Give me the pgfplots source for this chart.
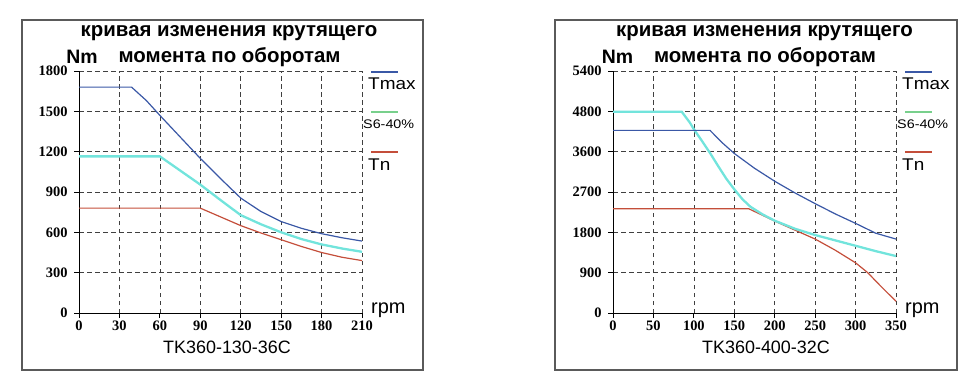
\documentclass[border=0pt]{standalone}
\usepackage{pgfplots}
\pgfplotsset{compat=1.18}
\usepackage{fontspec}
\setmainfont{Liberation Sans}
\newfontfamily\tickfont{Liberation Serif}
\definecolor{cmax}{HTML}{3A58A6}
\definecolor{cs6}{HTML}{72E4DC}
\definecolor{cs6leg}{HTML}{78D08C}
\definecolor{ctn}{HTML}{C44E3A}
\definecolor{cframe}{HTML}{5A5A5A}
\pgfplotsset{
  torq/.style={
    scale only axis, width=283bp, height=242bp, anchor=south west,
    axis x line*=bottom, axis y line*=left,
    axis line style={black, line width=0.9bp},
    grid=major,
    grid style={black!75, line width=0.6bp, dash pattern=on 4.5bp off 3.5bp},
    tick align=outside, major tick length=5bp,
    tick style={black, line width=0.8bp},
    ticklabel style={font=\tickfont\bfseries\fontsize{14.5}{14.5}\selectfont},
    yticklabel style={xshift=-3bp},
    xticklabel style={yshift=1bp},
    /pgf/number format/assume math mode=true,
    /pgf/number format/1000 sep={},
    clip=false,
  }
}
\begin{document}
\begin{tikzpicture}[x=1bp,y=1bp]
\path[use as bounding box] (0,0) rectangle (970,389);
% frames
\draw[cframe, line width=1.8bp] (22,19) rectangle (423,369);
\draw[cframe, line width=1.8bp] (555,19) rectangle (957,369);

% ---------- left panel ----------
\begin{axis}[torq, at={(79bp,76bp)},
  xmin=0, xmax=210, ymin=0, ymax=1800,
  xtick={0,30,...,210}, ytick={0,300,...,1800}]
\addplot[ctn, line width=1.2bp] coordinates {(0,780)(90,780)(105,715)(120,650)(135,595)(150,545)(165,495)(180,450)(195,415)(210,390)};
\addplot[cs6, line width=2.3bp] coordinates {(0,1165)(60,1165)(75,1060)(90,955)(105,840)(120,728)(135,660)(150,600)(165,550)(180,510)(195,480)(210,455)};
\addplot[cmax, line width=1.2bp] coordinates {(0,1680)(39,1680)(50,1580)(60,1470)(75,1310)(90,1150)(105,1000)(120,855)(135,755)(150,680)(165,630)(180,590)(195,560)(210,535)};
\end{axis}
\node[font=\bfseries\fontsize{20.5}{20.5}\selectfont] at (229,356) {кривая изменения крутящего};
\node[font=\bfseries\fontsize{20.5}{20.5}\selectfont] at (229.5,332) {момента по оборотам};
\node[font=\bfseries\fontsize{19.5}{19.5}\selectfont] at (82,332) {Nm};
\node[font=\fontsize{18}{18}\selectfont] at (227,42) {TK360-130-36C};
\node[font=\fontsize{20}{20}\selectfont, anchor=west, inner sep=0pt] at (371,79) {rpm};
\draw[cmax, line width=1.2bp] (371,317) -- (398,317);
\draw[cs6leg, line width=1.2bp] (371,277) -- (398,277);
\draw[ctn, line width=1.2bp] (371,237) -- (398,237);
\node[font=\fontsize{17}{17}\selectfont, anchor=west, inner sep=0pt, xscale=1.12] at (368,305) {Tmax};
\node[font=\fontsize{12.5}{12.5}\selectfont, anchor=west, inner sep=0pt, xscale=1.15] at (363,265) {S6-40\%};
\node[font=\fontsize{17}{17}\selectfont, anchor=west, inner sep=0pt, xscale=1.12] at (368,224) {Tn};

% ---------- right panel ----------
\begin{axis}[torq, at={(613bp,76bp)},
  xmin=0, xmax=350, ymin=0, ymax=5400,
  xtick={0,50,...,350}, ytick={0,900,...,5400},
  yticklabels={0,900,1800,2700,3600,4800,5400}]
\addplot[ctn, line width=1.2bp] coordinates {(0,2325)(168,2325)(185,2180)(200,2050)(225,1850)(250,1650)(275,1400)(300,1120)(315,900)(330,620)(340,440)(350,260)};
\addplot[cs6, line width=2.3bp] coordinates {(0,4490)(85,4490)(95,4250)(100,4100)(110,3840)(120,3570)(130,3280)(140,3000)(150,2760)(160,2540)(170,2370)(185,2200)(200,2060)(225,1880)(250,1740)(275,1620)(300,1500)(325,1380)(350,1270)};
\addplot[cmax, line width=1.2bp] coordinates {(0,4075)(120,4075)(135,3800)(150,3560)(175,3230)(200,2940)(225,2680)(250,2440)(275,2210)(300,2000)(325,1780)(350,1650)};
\end{axis}
\node[font=\bfseries\fontsize{20.5}{20.5}\selectfont] at (764.5,356) {кривая изменения крутящего};
\node[font=\bfseries\fontsize{20.5}{20.5}\selectfont] at (765,332) {момента по оборотам};
\node[font=\bfseries\fontsize{19.5}{19.5}\selectfont] at (617.5,332) {Nm};
\node[font=\fontsize{18}{18}\selectfont] at (766,42) {TK360-400-32C};
\node[font=\fontsize{20}{20}\selectfont, anchor=west, inner sep=0pt] at (905,79) {rpm};
\draw[cmax, line width=1.2bp] (905,317) -- (932,317);
\draw[cs6leg, line width=1.2bp] (905,277) -- (932,277);
\draw[ctn, line width=1.2bp] (905,237) -- (932,237);
\node[font=\fontsize{17}{17}\selectfont, anchor=west, inner sep=0pt, xscale=1.12] at (902,305) {Tmax};
\node[font=\fontsize{12.5}{12.5}\selectfont, anchor=west, inner sep=0pt, xscale=1.15] at (897,265) {S6-40\%};
\node[font=\fontsize{17}{17}\selectfont, anchor=west, inner sep=0pt, xscale=1.12] at (902,224) {Tn};
\end{tikzpicture}
\end{document}
